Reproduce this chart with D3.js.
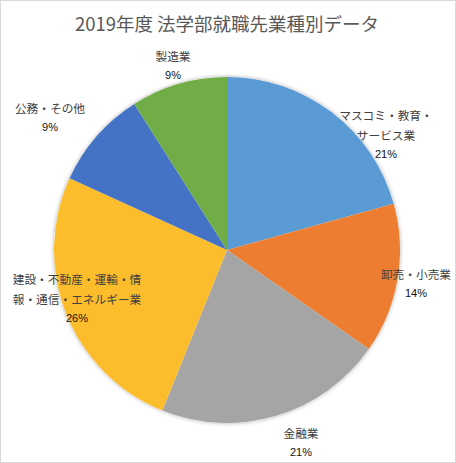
<!DOCTYPE html>
<html><head><meta charset="utf-8">
<script src="https://cdn.jsdelivr.net/npm/d3@7"></script>
<style>body{margin:0;background:#fff}svg{display:block}</style>
</head><body>
<script>
const title = "2019年度 法学部就職先業種別データ";
const categories = ["マスコミ・教育・サービス業","卸売・小売業","金融業","建設・不動産・運輸・情報・通信・エネルギー業","公務・その他","製造業"];
const values = [20.7, 14.0, 21.4, 25.7, 9.2, 9.0];
const colors = ["#5B9BD5","#ED7D31","#A5A5A5","#FCBD2D","#4472C4","#70AD47"];
const labelLines = [["マスコミ・教育・","サービス業"],["卸売・小売業"],["金融業"],["建設・不動産・運輸・情","報・通信・エネルギー業"],["公務・その他"],["製造業"]];
const labelPos = [[386,116],[416,275],[301,434],[77,280],[50,109],[173,57]];

const W=456,H=463, cx=227, cy=250, R=173;
const svg=d3.select("body").append("svg").attr("width",W).attr("height",H);
svg.append("rect").attr("x",0.5).attr("y",0.5).attr("width",W-1).attr("height",H-1).attr("fill","#fff").attr("stroke","#D9D9D9");
const defs=svg.append("defs");
const f=defs.append("filter").attr("id","sh").attr("x","-10%").attr("y","-10%").attr("width","120%").attr("height","120%");
f.append("feDropShadow").attr("dx",0).attr("dy",0).attr("stdDeviation",2).attr("flood-color","#000").attr("flood-opacity",0.35);

svg.append("text").attr("x",227).attr("y",31).attr("text-anchor","middle")
  .attr("font-family","'Noto Sans CJK JP','Noto Sans',sans-serif").attr("font-size",18.5).attr("fill","#595959").text(title);

const total=d3.sum(values);
const pie=d3.pie().sort(null).value(d=>d)(values);
const arc=d3.arc().innerRadius(0).outerRadius(R);
const g=svg.append("g").attr("transform",`translate(${cx},${cy})`);
g.append("circle").attr("r",R).attr("fill","#fff").attr("filter","url(#sh)");
g.selectAll("path").data(pie).join("path").attr("d",arc).attr("fill",(d,i)=>colors[i]);

const lg=svg.append("g").attr("font-family","'Noto Sans CJK JP','Noto Sans',sans-serif").attr("text-anchor","middle");
labelLines.forEach((lines,i)=>{
  const [x,y]=labelPos[i];
  lines.forEach((t,j)=>{
    lg.append("text").attr("x",x).attr("y",y+j*20).attr("dy","0.35em").attr("font-size",11.7).attr("fill","#404040").text(t);
  });
  lg.append("text").attr("x",x).attr("y",y+lines.length*20-2).attr("dy","0.35em")
    .attr("font-family","'Liberation Sans',Arial,sans-serif").attr("font-size",11).attr("fill","#111")
    .text(Math.round(values[i]/total*100)+"%");
});
</script>
</body></html>
